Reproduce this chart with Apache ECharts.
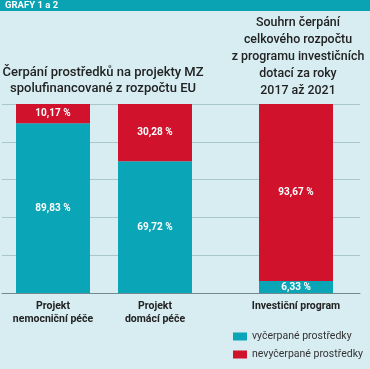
<!DOCTYPE html>
<html><head><meta charset="utf-8">
<script src="https://cdn.jsdelivr.net/npm/echarts@6/dist/echarts.min.js"></script>
<style>html,body{margin:0;padding:0;background:#d7edf2;}#c{width:370px;height:369px;}</style>
</head><body><div id="c"></div>
<script>
const categoriesEU = ['Projekt\nnemocniční péče', 'Projekt\ndomácí péče'];
const categoriesInv = ['Investiční program'];
const usedEU = [89.83, 69.72];
const unusedEU = [10.17, 30.28];
const usedInv = [6.33];
const unusedInv = [93.67];
const yTicks = [0, 20, 40, 60, 80, 100];

const TEAL = '#0aa5b6', RED = '#d0122c';
const FONT = 'Roboto';
const fmt = p => p.value.toFixed(2).replace('.', ',') + ' %';
const lbl = {show: true, position: 'inside', color: '#fff', fontSize: 10, fontWeight: 'bold', fontFamily: FONT, formatter: fmt};
const gTop = 104, gBottom = 76;
const catLbl = {interval: 0, color: '#222', fontSize: 10.5, fontWeight: 'bold', lineHeight: 13, margin: 7, fontFamily: FONT};

const chart = echarts.init(document.getElementById('c'));
chart.setOption({
  backgroundColor: '#d7edf2',
  animation: false,
  graphic: [{type: 'rect', shape: {x: 0, y: 0, width: 370, height: 11}, style: {fill: '#0aa3b4'}}],
  title: [
    {text: 'GRAFY 1 a 2', left: 5, top: 0, padding: [1, 0, 0, 0], textStyle: {color: '#fff', fontSize: 9.5, fontWeight: 'bold', fontFamily: FONT, lineHeight: 10}},
    {text: 'Čerpání prostředků na projekty MZ\nspolufinancované z rozpočtu EU', left: 98, top: 60, textAlign: 'center',
     textStyle: {color: '#222', fontSize: 13, fontWeight: 500, lineHeight: 16, fontFamily: FONT}},
    {text: 'Souhrn čerpání\ncelkového rozpočtu\nz programu investičních\ndotací za roky\n2017 až 2021', left: 293, top: 10, textAlign: 'center',
     textStyle: {color: '#222', fontSize: 12.4, fontWeight: 500, lineHeight: 16.8, fontFamily: FONT}}
  ],
  legend: {orient: 'vertical', left: 228, top: 326, itemWidth: 14, itemHeight: 8, itemGap: 7,
    icon: 'rect', data: ['vyčerpané prostředky', 'nevyčerpané prostředky'],
    textStyle: {color: '#333', fontSize: 10.5, fontFamily: FONT}},
  grid: [
    {left: 2, width: 358, top: gTop, bottom: gBottom},
    {left: 2, width: 204, top: gTop, bottom: gBottom},
    {left: 232, width: 128, top: gTop, bottom: gBottom}
  ],
  xAxis: [
    {gridIndex: 0, type: 'value', min: 0, max: 1, axisLabel: {show: false}, axisTick: {show: false}, splitLine: {show: false},
     axisLine: {show: true, lineStyle: {color: '#6f8a90', width: 1}}},
    {gridIndex: 1, type: 'category', data: categoriesEU, axisLine: {show: false}, axisTick: {show: false}, axisLabel: catLbl},
    {gridIndex: 2, type: 'category', data: categoriesInv, axisLine: {show: false}, axisTick: {show: false}, axisLabel: catLbl}
  ],
  yAxis: [
    {gridIndex: 0, type: 'value', min: yTicks[0], max: yTicks[yTicks.length - 1], interval: 20, axisLabel: {show: false},
     axisLine: {show: false}, axisTick: {show: false}, splitLine: {show: true, lineStyle: {color: '#aac6cd', width: 1}}},
    {gridIndex: 1, type: 'value', min: 0, max: 100, show: false},
    {gridIndex: 2, type: 'value', min: 0, max: 100, show: false}
  ],
  series: [
    {name: 'vyčerpané prostředky', type: 'bar', xAxisIndex: 1, yAxisIndex: 1, stack: 'a', data: usedEU, barWidth: 74, itemStyle: {color: TEAL}, label: lbl},
    {name: 'nevyčerpané prostředky', type: 'bar', xAxisIndex: 1, yAxisIndex: 1, stack: 'a', data: unusedEU, barWidth: 74, itemStyle: {color: RED}, label: lbl},
    {name: 'vyčerpané prostředky', type: 'bar', xAxisIndex: 2, yAxisIndex: 2, stack: 'b', data: usedInv, barWidth: 74, itemStyle: {color: TEAL}, label: lbl},
    {name: 'nevyčerpané prostředky', type: 'bar', xAxisIndex: 2, yAxisIndex: 2, stack: 'b', data: unusedInv, barWidth: 74, itemStyle: {color: RED}, label: lbl}
  ]
});
</script></body></html>
